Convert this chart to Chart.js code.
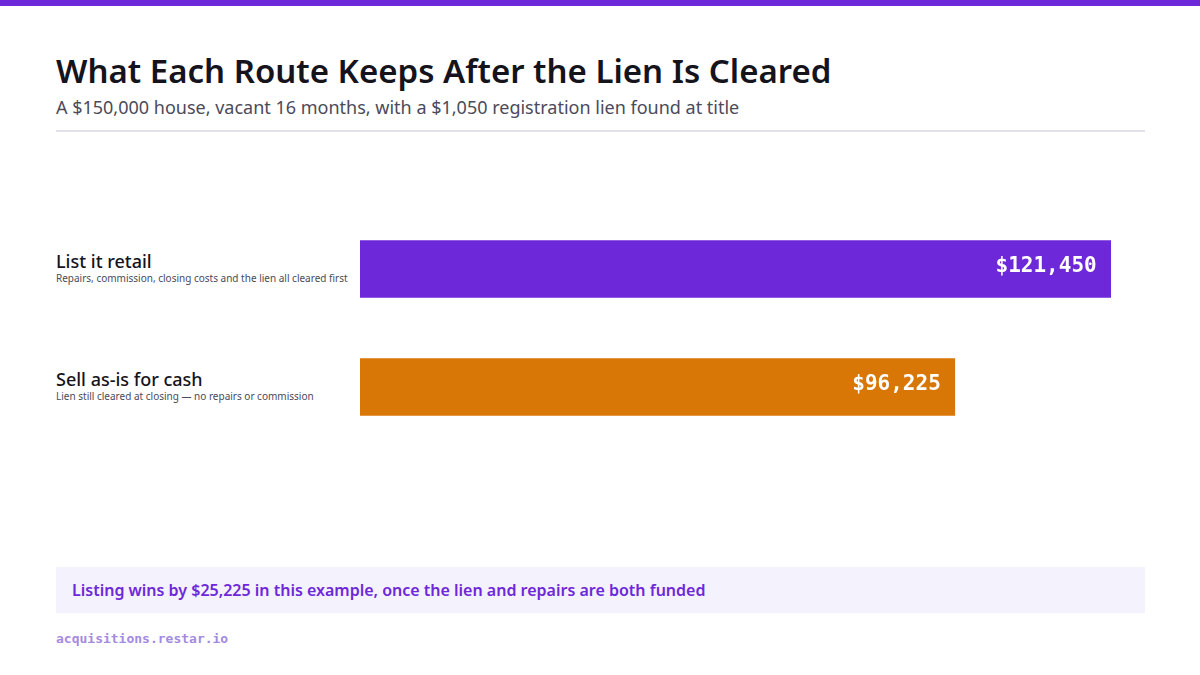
<!DOCTYPE html>
<html><head><meta charset="utf-8">
<script src="https://cdn.jsdelivr.net/npm/chart.js@4"></script>
<style>
body{margin:0;width:1200px;height:675px;background:#fff;font-family:"Noto Sans",sans-serif;position:relative;overflow:hidden}
#top{position:absolute;left:0;top:0;width:1200px;height:6px;background:#6d28d9}
h1{position:absolute;left:56px;top:48px;margin:0;font-size:33px;font-weight:600;color:#15131c}
#sub{position:absolute;left:56px;top:95px;font-size:18px;color:#4b4a5a}
#rule{position:absolute;left:56px;top:130px;width:1089px;height:2px;background:#e2e1ea}
.lab{position:absolute;left:56px}
.lab .t{font-size:18px;font-weight:500;color:#15131c;line-height:20px}
.lab .s{font-size:10px;color:#4b4a5a;line-height:14px}
#wrap{position:absolute;left:360px;top:210px;width:785px;height:236px}
#note{position:absolute;left:56px;top:567px;width:1089px;height:46px;background:#f4f2fd;color:#6d28d9;font-size:16px;font-weight:600;line-height:46px;box-sizing:border-box;padding-left:16px}
#foot{position:absolute;left:56px;top:631px;font-family:"DejaVu Sans Mono",monospace;font-size:13px;font-weight:bold;color:#a48be0}
</style></head><body>
<div id="top"></div>
<h1>What Each Route Keeps After the Lien Is Cleared</h1>
<div id="sub">A $150,000 house, vacant 16 months, with a $1,050 registration lien found at title</div>
<div id="rule"></div>
<div id="labels"></div>
<div id="wrap"><canvas id="c"></canvas></div>
<div id="note">Listing wins by $25,225 in this example, once the lien and repairs are both funded</div>
<div id="foot">acquisitions.restar.io</div>
<script>
const categories=["List it retail","Sell as-is for cash"];
const subtitles=["Repairs, commission, closing costs and the lien all cleared first","Lien still cleared at closing — no repairs or commission"];
const values=[121450,96225];
const colors=["#6d28d9","#d97706"];
const tops=[251,369];
const L=document.getElementById('labels');
categories.forEach((c,i)=>{const d=document.createElement('div');d.className='lab';d.style.top=tops[i]+'px';d.innerHTML='<div class="t">'+c+'</div><div class="s">'+subtitles[i]+'</div>';L.appendChild(d);});
const valLabels={id:'vl',afterDatasetsDraw(ch){const ctx=ch.ctx;ch.getDatasetMeta(0).data.forEach((b,i)=>{ctx.save();ctx.fillStyle='#fff';ctx.font='bold 21px "DejaVu Sans Mono",monospace';ctx.textAlign='right';ctx.textBaseline='middle';ctx.fillText('$'+values[i].toLocaleString('en-US'),b.x-14,b.y-2);ctx.restore();});}};
new Chart(document.getElementById('c'),{type:'bar',data:{labels:categories,datasets:[{data:values,backgroundColor:colors,barThickness:57}]},
options:{indexAxis:'y',responsive:true,maintainAspectRatio:false,animation:false,layout:{padding:0},
plugins:{legend:{display:false},tooltip:{enabled:false}},
scales:{x:{min:0,max:127000,display:false},y:{display:false}}},plugins:[valLabels]});
</script></body></html>
